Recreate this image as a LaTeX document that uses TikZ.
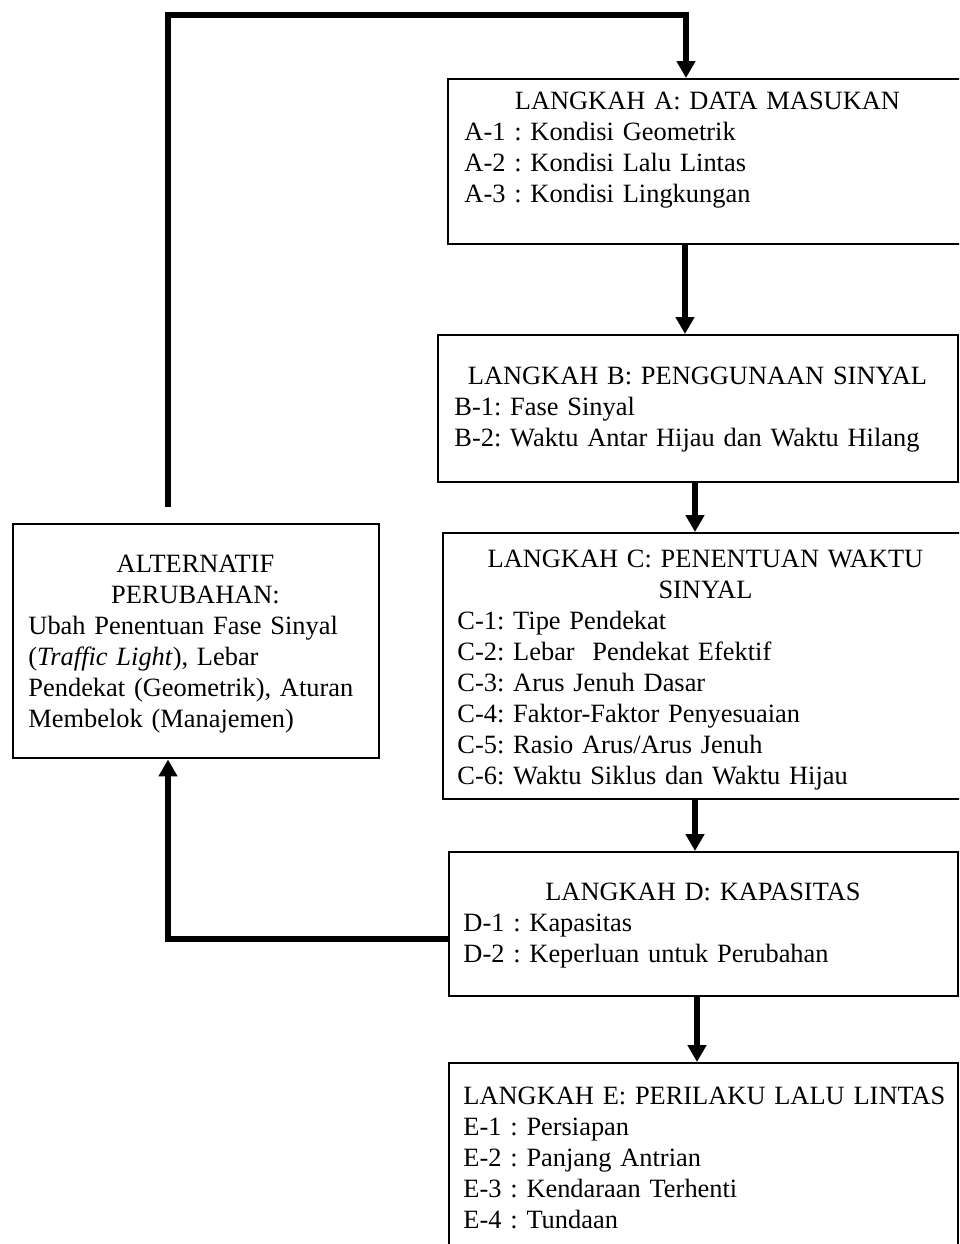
\documentclass[tikz,border=0pt]{standalone}
\usepackage{fontspec}
\setmainfont{Liberation Serif}
\usetikzlibrary{arrows.meta,calc}
\begin{document}
\frenchspacing
\begin{tikzpicture}[x=0.445pt,y=-0.445pt,
  box/.style={draw,line width=1.1pt,inner sep=0pt,anchor=north west},
  txt/.style={anchor=north west,inner sep=0pt,align=left,font=\fontsize{11.75pt}{13.75pt}\selectfont\frenchspacing},
  conn/.style={line width=2.4pt},
  arr/.style={conn,-{Triangle[width=8pt,length=7.5pt]}}]
\useasboundingbox (0,0) rectangle (959,1244);
\clip (0,0) rectangle (959,1244);
% boxes
\node[box,minimum width={520*0.445pt},minimum height={165*0.445pt}] (A) at (447,78) {};
\node[box,minimum width={520*0.445pt},minimum height={147*0.445pt}] (B) at (437,334) {};
\node[box,minimum width={526*0.445pt},minimum height={266*0.445pt}] (C) at (442,532) {};
\node[box,minimum width={509*0.445pt},minimum height={144*0.445pt}] (D) at (448,851) {};
\node[box,minimum width={509*0.445pt},minimum height={220*0.445pt}] (E) at (448,1062) {};
\node[box,minimum width={366*0.445pt},minimum height={234*0.445pt}] (Alt) at (12,523) {};
% texts
\node[txt,text width={486*0.445pt}] (tA) at ($(A.north west)+(17,14)$)
 {\makebox[\hsize]{LANGKAH A: DATA MASUKAN}\\
  A-1 : Kondisi Geometrik\\
  A-2 : Kondisi Lalu Lintas\\
  A-3 : Kondisi Lingkungan};
\node[txt,text width={486*0.445pt}] (tB) at ($(B.north west)+(17,33)$)
 {\makebox[\hsize]{LANGKAH B: PENGGUNAAN SINYAL}\\
  B-1: Fase Sinyal\\
  B-2: Waktu Antar Hijau dan Waktu Hilang};
\node[txt,text width={496*0.445pt}] (tC) at ($(C.north west)+(15,18)$)
 {\makebox[\hsize]{LANGKAH C: PENENTUAN WAKTU}\\
  \makebox[\hsize]{SINYAL}\\
  C-1: Tipe Pendekat\\
  C-2: Lebar\ \ Pendekat Efektif\\
  C-3: Arus Jenuh Dasar\\
  C-4: Faktor-Faktor Penyesuaian\\
  C-5: Rasio Arus/Arus Jenuh\\
  C-6: Waktu Siklus dan Waktu Hijau};
\node[txt,text width={479*0.445pt}] (tD) at ($(D.north west)+(15,32)$)
 {\makebox[\hsize]{LANGKAH D: KAPASITAS}\\
  D-1 : Kapasitas\\
  D-2 : Keperluan untuk Perubahan};
\node[txt,text width={500*0.445pt}] (tE) at ($(E.north west)+(15,25)$)
 {\mbox{LANGKAH E: PERILAKU LALU LINTAS}\\
  E-1 : Persiapan\\
  E-2 : Panjang Antrian\\
  E-3 : Kendaraan Terhenti\\
  E-4 : Tundaan};
\node[txt,text width={334*0.445pt}] (tAlt) at ($(Alt.north west)+(16,32)$)
 {\makebox[\hsize]{ALTERNATIF}\\
  \makebox[\hsize]{PERUBAHAN:}\\
  Ubah Penentuan Fase Sinyal\\
  (\textit{Traffic Light}), Lebar\\
  Pendekat (Geometrik), Aturan\\
  Membelok (Manajemen)};
% connector coordinates
\coordinate (xAB) at (685,0);
\coordinate (xBC) at (695,0);
\coordinate (xCD) at (695,0);
\coordinate (xDE) at (697,0);
\coordinate (loopStart) at (168,507);
\coordinate (topR) at (686,15);
\coordinate (yD) at (0,939);
% connectors
\draw[arr] (loopStart) |- (topR) -- (A.north -| topR);
\draw[arr] (A.south -| xAB) -- (B.north -| xAB);
\draw[arr] (B.south -| xBC) -- (C.north -| xBC);
\draw[arr] (C.south -| xCD) -- (D.north -| xCD);
\draw[arr] (D.south -| xDE) -- (E.north -| xDE);
\draw[arr] (D.west |- yD) -| (Alt.south -| loopStart);
\end{tikzpicture}
\end{document}
